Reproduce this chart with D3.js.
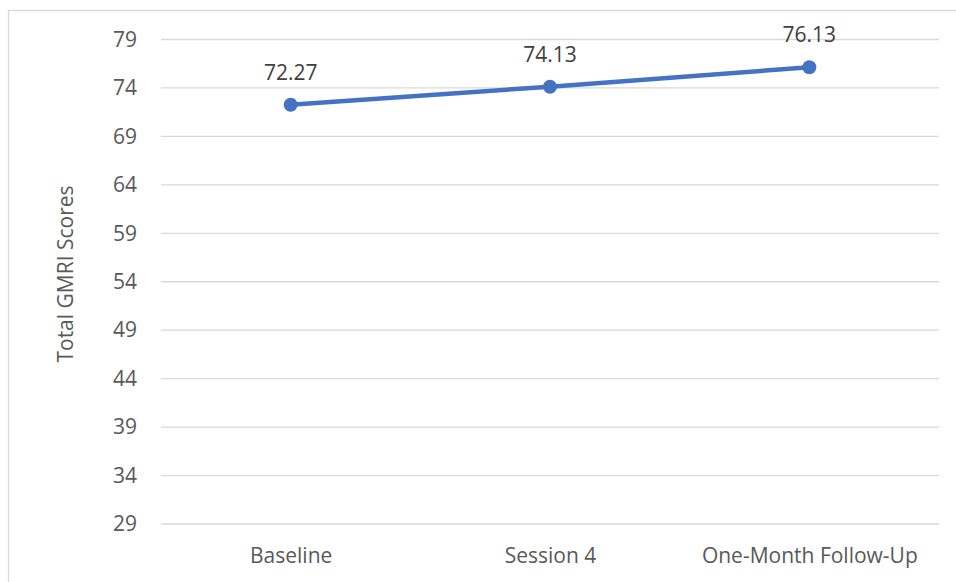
<!DOCTYPE html>
<html>
<head>
<meta charset="utf-8">
<script src="https://cdn.jsdelivr.net/npm/d3@7"></script>
<style>
  html, body { margin: 0; padding: 0; background: #fff; }
  svg { display: block; }
  text { font-family: "Open Sans", "Noto Sans", sans-serif; }
</style>
</head>
<body>
<svg id="chart" width="956" height="582"></svg>
<script>
// Total GMRI scores across assessment points
const categories = ["Baseline", "Session 4", "One-Month Follow-Up"];
const scores = [72.27, 74.13, 76.13];
const yTicks = [29, 34, 39, 44, 49, 54, 59, 64, 69, 74, 79];
const yTitle = "Total GMRI Scores";

const svg = d3.select("#chart");
const W = 956, H = 582;
const plot = { left: 161, right: 939, top: 39.5, bottom: 524 };
const fontSize = "21px";

// outer chart frame
svg.append("rect")
  .attr("x", 8.5).attr("y", 10.5)
  .attr("width", W + 10).attr("height", H + 10)
  .attr("fill", "none").attr("stroke", "#d9d9d9").attr("stroke-width", 1.3);

const x = d3.scalePoint()
  .domain(categories)
  .range([plot.left, plot.right])
  .padding(0.5);

const y = d3.scaleLinear()
  .domain([29, 79])
  .range([plot.bottom, plot.top]);

// horizontal gridlines
svg.append("g")
  .selectAll("line")
  .data(yTicks)
  .join("line")
  .attr("x1", plot.left).attr("x2", plot.right)
  .attr("y1", d => y(d)).attr("y2", d => y(d))
  .attr("stroke", "#d9d9d9").attr("stroke-width", 1.3);

// y axis labels
const yAxis = d3.axisLeft(y).tickValues(yTicks).tickSize(0).tickPadding(0);
const gy = svg.append("g").attr("transform", `translate(${plot.left - 24},0)`).call(yAxis);
gy.select(".domain").remove();
gy.selectAll("text")
  .attr("fill", "#595959")
  .style("font-size", fontSize)
  .style("font-family", "'Open Sans', sans-serif");

// x axis labels
const xAxis = d3.axisBottom(x).tickSize(0).tickPadding(0);
const gx = svg.append("g").attr("transform", `translate(0,${plot.bottom + 24})`).call(xAxis);
gx.select(".domain").remove();
gx.selectAll("text")
  .attr("fill", "#595959")
  .style("font-size", fontSize)
  .style("font-family", "'Open Sans', sans-serif");

// y axis title
svg.append("text")
  .attr("transform", `translate(73,274) rotate(-90)`)
  .attr("text-anchor", "middle")
  .attr("fill", "#595959")
  .style("font-size", fontSize)
  .text(yTitle);

const pts = categories.map((c, i) => ({ c, v: scores[i] }));

// series line
svg.append("path")
  .datum(pts)
  .attr("fill", "none")
  .attr("stroke", "#4472C4")
  .attr("stroke-width", 4.5)
  .attr("stroke-linejoin", "round")
  .attr("d", d3.line().x(d => x(d.c)).y(d => y(d.v)));

// markers
svg.append("g")
  .selectAll("circle")
  .data(pts)
  .join("circle")
  .attr("cx", d => x(d.c)).attr("cy", d => y(d.v))
  .attr("r", 7)
  .attr("fill", "#4472C4");

// data labels
svg.append("g")
  .selectAll("text")
  .data(pts)
  .join("text")
  .attr("x", d => x(d.c)).attr("y", d => y(d.v) - 25)
  .attr("text-anchor", "middle")
  .attr("fill", "#404040")
  .style("font-size", fontSize)
  .text(d => d.v.toFixed(2));
</script>
</body>
</html>
